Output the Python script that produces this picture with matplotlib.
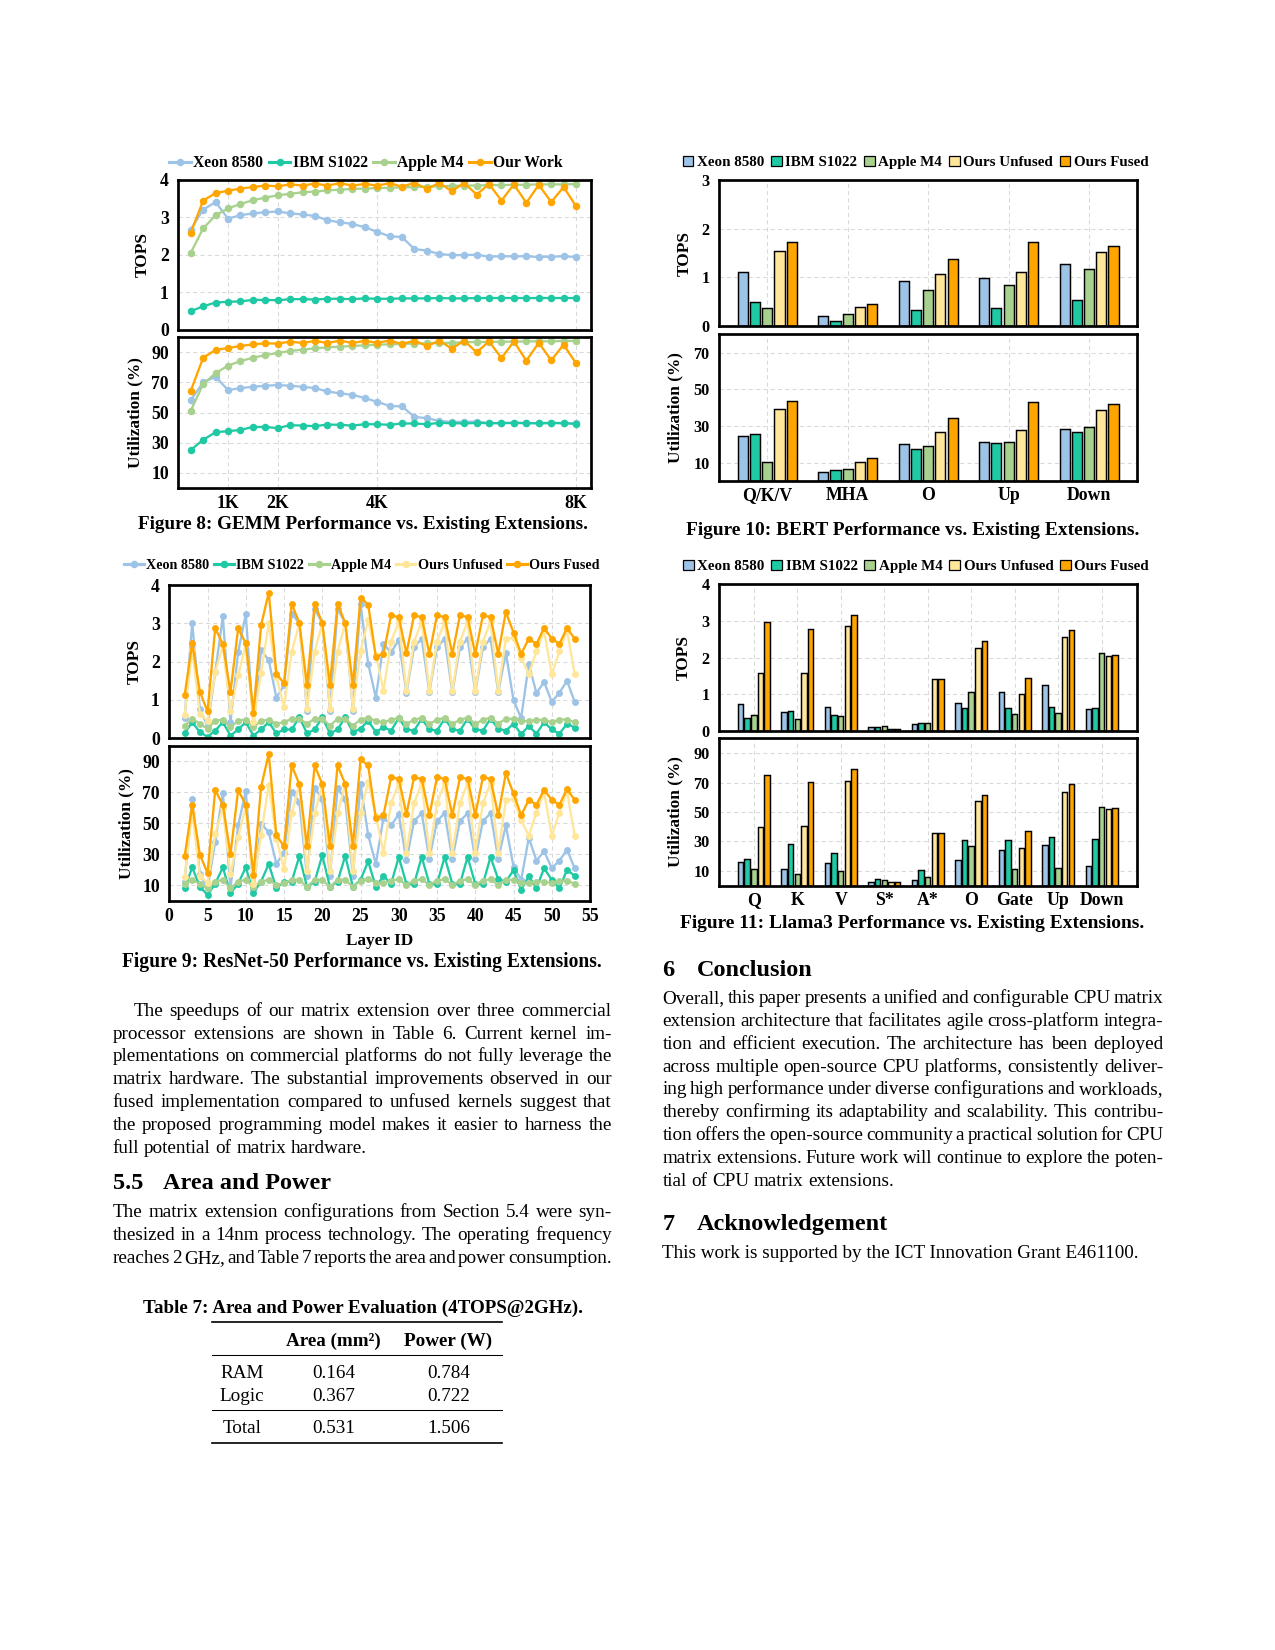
import numpy as np
import matplotlib
matplotlib.use('Agg')
import matplotlib.pyplot as plt
from matplotlib.lines import Line2D
from matplotlib.patches import Patch

# ---------------- Figure 8: GEMM ----------------
gemm_size = [256, 512, 768, 1024, 1280, 1536, 1792, 2048, 2304, 2560, 2816, 3072,
             3328, 3584, 3840, 4096, 4352, 4608, 4864, 5120, 5376, 5632, 5888, 6144,
             6400, 6656, 6912, 7168, 7424, 7680, 7936, 8192]
gemm_ticks = [1024, 2048, 4096, 8192]
gemm_ticklabels = ['1K', '2K', '4K', '8K']
gemm_labels = ['Xeon 8580', 'IBM S1022', 'Apple M4', 'Our Work']

gemm_xeon_tops = [2.67, 3.20, 3.40, 2.96, 3.05, 3.10, 3.13, 3.15, 3.10, 3.07, 3.03, 2.92,
                  2.86, 2.82, 2.73, 2.61, 2.49, 2.47, 2.15, 2.11, 2.02, 1.99, 1.99, 2.00,
                  1.95, 1.96, 1.96, 1.96, 1.94, 1.95, 1.96, 1.94]
gemm_ibm_tops = [0.50, 0.63, 0.73, 0.75, 0.76, 0.80, 0.80, 0.79, 0.82, 0.82, 0.81, 0.83,
                 0.83, 0.82, 0.84, 0.83, 0.83, 0.84, 0.84, 0.84, 0.85, 0.84, 0.84, 0.85,
                 0.85, 0.85, 0.85, 0.85, 0.85, 0.85, 0.85, 0.85]
gemm_apple_tops = [2.05, 2.70, 3.05, 3.23, 3.35, 3.45, 3.52, 3.58, 3.62, 3.66, 3.68, 3.71,
                   3.73, 3.75, 3.76, 3.77, 3.78, 3.79, 3.80, 3.81, 3.82, 3.83, 3.84, 3.84,
                   3.85, 3.85, 3.86, 3.86, 3.87, 3.87, 3.87, 3.88]
gemm_ours_tops = [2.58, 3.44, 3.64, 3.70, 3.76, 3.80, 3.84, 3.82, 3.87, 3.84, 3.89, 3.84,
                  3.90, 3.84, 3.88, 3.84, 3.90, 3.81, 3.91, 3.75, 3.91, 3.69, 3.91, 3.60,
                  3.88, 3.44, 3.87, 3.38, 3.86, 3.40, 3.80, 3.29]

gemm_xeon_util = [58.2, 70.0, 73.8, 64.9, 66.2, 67.1, 67.8, 68.2, 67.8, 67.1, 66.2, 64.0,
                  62.7, 61.8, 59.6, 57.1, 54.4, 54.0, 47.1, 46.2, 44.4, 43.8, 43.8, 44.0,
                  42.9, 43.1, 43.1, 43.1, 42.7, 42.9, 43.0, 42.7]
gemm_ibm_util = [25.1, 31.8, 36.9, 37.6, 38.4, 40.4, 40.4, 39.6, 41.6, 41.3, 40.9, 42.0,
                 41.8, 41.3, 42.2, 42.2, 41.8, 42.7, 42.7, 42.2, 43.1, 42.9, 42.7, 43.1,
                 42.9, 42.9, 43.1, 42.9, 42.9, 43.1, 42.9, 42.4]
gemm_apple_util = [51.1, 68.9, 76.2, 81.1, 84.2, 86.4, 88.2, 89.6, 90.9, 91.8, 92.7, 93.3,
                   93.8, 94.2, 94.7, 95.1, 95.3, 95.6, 95.8, 96.0, 96.2, 96.4, 96.7, 96.9,
                   96.9, 97.1, 97.1, 97.3, 97.3, 97.3, 97.6, 97.6]
gemm_ours_util = [64.4, 86.4, 91.6, 92.9, 94.2, 95.3, 96.0, 95.8, 97.1, 96.2, 97.6, 96.2,
                  97.8, 96.2, 97.6, 96.4, 97.8, 95.6, 97.8, 94.2, 97.8, 92.4, 97.8, 90.0,
                  97.3, 86.2, 97.3, 84.4, 96.4, 84.7, 95.1, 82.7]

# ---------------- Figure 9: ResNet-50 ----------------
layer_id = [2, 3, 4, 5, 6, 7, 8, 9, 10, 11, 12, 13, 14,
            15, 16, 17, 18, 19, 20, 21, 22, 23, 24, 25, 26, 27,
            28, 29, 30, 31, 32, 33, 34, 35, 36, 37, 38, 39, 40,
            41, 42, 43, 44, 45, 46, 47, 48, 49, 50, 51, 52, 53]
r50_labels = ['Xeon 8580', 'IBM S1022', 'Apple M4', 'Ours Unfused', 'Ours Fused']

r50_xeon_tops = [0.52, 3.02, 0.77, 0.31, 1.72, 3.18, 0.42, 2.25, 3.24, 0.35, 2.30, 2.04, 1.06,
                 1.38, 3.25, 3.01, 0.72, 3.38, 3.01, 0.72, 3.38, 3.01, 0.72, 3.50, 1.95, 1.06,
                 2.46, 2.24, 2.57, 1.18, 2.37, 2.60, 1.20, 2.37, 2.60, 1.20, 2.37, 2.60, 1.20,
                 2.37, 2.60, 1.20, 2.23, 0.99, 0.53, 1.94, 1.18, 1.47, 0.95, 1.19, 1.50, 0.95]
r50_ibm_tops = [0.13, 0.42, 0.16, 0.04, 0.20, 0.42, 0.07, 0.23, 0.42, 0.07, 0.23, 0.42, 0.13,
                0.23, 0.23, 0.55, 0.13, 0.23, 0.55, 0.13, 0.23, 0.55, 0.16, 0.25, 0.46, 0.16,
                0.29, 0.20, 0.53, 0.23, 0.20, 0.51, 0.23, 0.20, 0.51, 0.23, 0.20, 0.51, 0.23,
                0.20, 0.51, 0.25, 0.20, 0.38, 0.11, 0.32, 0.12, 0.42, 0.23, 0.12, 0.38, 0.28]
r50_apple_tops = [0.33, 0.51, 0.38, 0.25, 0.46, 0.49, 0.29, 0.46, 0.49, 0.29, 0.45, 0.49, 0.38,
                  0.42, 0.51, 0.51, 0.38, 0.51, 0.51, 0.33, 0.51, 0.51, 0.33, 0.49, 0.54, 0.45,
                  0.42, 0.48, 0.54, 0.38, 0.48, 0.54, 0.38, 0.48, 0.54, 0.38, 0.48, 0.54, 0.38,
                  0.48, 0.54, 0.38, 0.51, 0.51, 0.45, 0.45, 0.48, 0.48, 0.42, 0.49, 0.49, 0.42]
r50_unf_tops = [0.62, 2.30, 0.64, 0.46, 1.74, 2.40, 0.70, 1.65, 2.45, 0.42, 1.70, 3.00, 1.60,
                0.82, 2.26, 3.00, 0.77, 2.26, 3.00, 0.77, 2.26, 3.00, 0.77, 2.28, 3.08, 2.18,
                1.24, 2.52, 3.05, 1.24, 2.52, 3.05, 1.24, 2.52, 3.05, 1.24, 2.52, 3.05, 1.24,
                2.52, 3.05, 1.24, 2.60, 2.62, 2.10, 1.68, 2.27, 2.80, 1.67, 2.27, 2.82, 1.67]
r50_fused_tops = [1.12, 2.48, 1.21, 0.70, 2.87, 2.46, 1.21, 2.87, 2.48, 0.67, 2.95, 3.80, 1.69,
                  1.43, 3.51, 3.01, 1.39, 3.51, 3.01, 1.39, 3.51, 3.01, 1.39, 3.67, 3.49, 2.13,
                  2.20, 3.21, 3.16, 2.22, 3.21, 3.16, 2.20, 3.21, 3.16, 2.20, 3.21, 3.16, 2.20,
                  3.21, 3.16, 2.20, 3.30, 2.76, 2.20, 2.60, 2.46, 2.88, 2.60, 2.46, 2.88, 2.59]

r50_xeon_util = [12.4, 65.7, 17.0, 8.0, 38.0, 69.6, 8.0, 48.7, 70.7, 7.0, 49.8, 44.3, 23.9,
                 31.0, 70.4, 64.0, 15.7, 72.6, 66.0, 15.7, 72.6, 65.7, 15.7, 75.4, 42.4, 23.7,
                 53.7, 48.7, 55.9, 26.0, 51.5, 56.5, 27.0, 51.5, 56.5, 27.0, 51.5, 56.5, 27.0,
                 51.5, 56.5, 27.0, 48.7, 22.0, 13.5, 40.7, 25.9, 32.0, 21.0, 25.9, 33.0, 21.0]
r50_ibm_util = [8.0, 21.5, 9.0, 3.7, 11.0, 21.5, 4.8, 11.0, 21.5, 5.2, 12.4, 23.7, 8.0,
                12.4, 12.4, 28.7, 9.0, 12.4, 29.3, 9.0, 12.4, 29.0, 9.0, 13.5, 25.4, 9.0,
                16.0, 10.9, 28.3, 10.9, 10.9, 28.3, 10.9, 10.9, 28.3, 10.9, 10.9, 28.3, 10.9,
                10.9, 28.3, 13.9, 12.4, 19.6, 7.0, 16.0, 8.0, 21.0, 13.5, 8.0, 20.0, 16.0]
r50_apple_util = [10.9, 13.5, 10.9, 8.0, 12.4, 13.5, 8.0, 12.4, 13.5, 9.0, 12.4, 13.5, 10.2,
                  11.3, 13.5, 13.5, 9.0, 13.5, 13.5, 9.0, 13.5, 13.5, 9.0, 13.0, 13.9, 11.7,
                  11.3, 13.0, 13.9, 10.2, 13.0, 13.9, 10.2, 13.0, 13.9, 10.2, 13.0, 13.9, 10.2,
                  13.0, 13.9, 10.2, 13.5, 13.5, 11.7, 11.7, 12.4, 12.4, 11.3, 13.0, 13.0, 10.9]
r50_unf_util = [15.5, 57.0, 16.0, 11.5, 43.0, 60.0, 17.0, 41.0, 61.0, 10.5, 42.5, 75.0, 40.0,
                20.5, 56.5, 75.0, 19.0, 56.5, 75.0, 19.0, 56.5, 75.0, 19.0, 57.0, 77.0, 55.0,
                31.0, 63.0, 76.0, 31.0, 63.0, 76.0, 31.0, 63.0, 76.0, 31.0, 63.0, 76.0, 31.0,
                63.0, 76.0, 31.0, 65.0, 65.5, 52.0, 42.0, 57.0, 70.0, 42.0, 57.0, 70.5, 42.0]
r50_fused_util = [28.7, 61.7, 29.8, 17.8, 71.5, 62.0, 30.0, 71.5, 62.0, 16.7, 73.5, 95.0, 42.2,
                  35.2, 87.4, 75.4, 35.2, 87.4, 75.4, 35.2, 87.4, 75.4, 35.2, 91.3, 87.4, 53.3,
                  55.2, 79.8, 78.7, 55.9, 79.8, 78.7, 55.2, 79.8, 78.7, 55.2, 79.8, 78.7, 55.2,
                  79.8, 78.7, 55.2, 82.4, 69.3, 55.2, 65.2, 62.0, 71.7, 65.2, 62.0, 72.2, 65.0]

# ---------------- Figure 10: BERT ----------------
bert_ops = ['Q/K/V', 'MHA', 'O', 'Up', 'Down']
bert_xeon_tops = [1.10, 0.20, 0.93, 0.98, 1.28]
bert_ibm_tops = [0.50, 0.10, 0.32, 0.38, 0.53]
bert_apple_tops = [0.38, 0.24, 0.73, 0.84, 1.17]
bert_unf_tops = [1.55, 0.40, 1.06, 1.10, 1.53]
bert_fused_tops = [1.72, 0.46, 1.37, 1.72, 1.65]
bert_xeon_util = [24.4, 4.7, 20.4, 21.5, 28.2]
bert_ibm_util = [25.8, 5.8, 17.3, 20.5, 26.5]
bert_apple_util = [10.2, 6.4, 18.9, 21.5, 29.3]
bert_unf_util = [39.1, 10.2, 26.5, 27.6, 38.5]
bert_fused_util = [43.5, 12.4, 34.2, 42.9, 41.8]

# ---------------- Figure 11: Llama3 ----------------
llama_ops = ['Q', 'K', 'V', 'S*', 'A*', 'O', 'Gate', 'Up', 'Down']
llama_xeon_tops = [0.72, 0.50, 0.66, 0.09, 0.17, 0.75, 1.07, 1.24, 0.58]
llama_ibm_tops = [0.34, 0.55, 0.42, 0.09, 0.20, 0.61, 0.61, 0.64, 0.61]
llama_apple_tops = [0.42, 0.31, 0.39, 0.12, 0.20, 1.05, 0.45, 0.47, 2.11]
llama_unf_tops = [1.59, 1.59, 2.85, 0.06, 1.40, 2.27, 0.99, 2.55, 2.05]
llama_fused_tops = [2.98, 2.79, 3.15, 0.06, 1.40, 2.44, 1.45, 2.74, 2.08]
llama_xeon_util = [16.1, 11.4, 15.4, 2.6, 3.9, 17.5, 24.2, 27.6, 13.4]
llama_ibm_util = [18.1, 28.3, 22.2, 4.6, 10.7, 31.0, 31.0, 33.0, 31.6]
llama_apple_util = [11.4, 8.0, 10.0, 3.9, 6.0, 26.9, 11.4, 12.0, 53.3]
llama_unf_util = [39.8, 40.2, 70.8, 2.6, 35.7, 57.3, 25.5, 63.4, 51.9]
llama_fused_util = [74.9, 70.2, 79.0, 2.6, 35.7, 61.4, 37.0, 68.8, 52.6]

# ---------------- Table 7 ----------------
table_cols = ['Area (mm²)', 'Power (W)']
table_rows = ['RAM', 'Logic', 'Total']
table_area = ['0.164', '0.367', '0.531']
table_power = ['0.784', '0.722', '1.506']

# ---------------- page text ----------------
para_results = [
    "The speedups of our matrix extension over three commercial",
    "processor extensions are shown in Table 6. Current kernel im-",
    "plementations on commercial platforms do not fully leverage the",
    "matrix hardware. The substantial improvements observed in our",
    "fused implementation compared to unfused kernels suggest that",
    "the proposed programming model makes it easier to harness the",
    "full potential of matrix hardware."]
para_area = [
    "The matrix extension configurations from Section 5.4 were syn-",
    "thesized in a 14nm process technology. The operating frequency",
    "reaches 2 GHz, and Table 7 reports the area and power consumption."]
para_conclusion = [
    "Overall, this paper presents a unified and configurable CPU matrix",
    "extension architecture that facilitates agile cross-platform integra-",
    "tion and efficient execution. The architecture has been deployed",
    "across multiple open-source CPU platforms, consistently deliver-",
    "ing high performance under diverse configurations and workloads,",
    "thereby confirming its adaptability and scalability. This contribu-",
    "tion offers the open-source community a practical solution for CPU",
    "matrix extensions. Future work will continue to explore the poten-",
    "tial of CPU matrix extensions."]
ack_line = "This work is supported by the ICT Innovation Grant E461100."

W, H = 1275, 1650
DPI = 150
LINE = 22.8

C_XEON = '#9dc3e6'
C_IBM = '#1fc9a3'
C_APPLE = '#a9d18e'
C_UNF = '#ffe699'
C_FUSED = '#ffa500'


def fx(x):
    return x / W


def fy(y):
    return 1 - y / H


def box(l, t, r, b):
    return [l / W, 1 - b / H, (r - l) / W, (b - t) / H]


def text_width(fig, t):
    return t.get_window_extent(renderer=fig.canvas.get_renderer()).width


def base(cy, size):
    # centre of the capitals (px) -> baseline (px)
    return cy + 0.34 * size * DPI / 72


def put(fig, x, cy, s, size, weight='normal', ha='left'):
    return fig.text(fx(x), fy(base(cy, size)), s, fontsize=size,
                    fontweight=weight, ha=ha, va='baseline')


def fit_text(fig, x, cy, s, target, weight='bold', ha='center'):
    t = fig.text(fx(x), fy(cy), s, fontsize=9, fontweight=weight, ha=ha, va='baseline')
    size = 9 * target / text_width(fig, t)
    t.set_fontsize(size)
    t.set_y(fy(base(cy, size)))
    return size


def natural_size(fig, lines, target):
    # font size at which a typical full line fills the column with plain spaces
    ratios = []
    for line in lines:
        t = fig.text(0, 0, line, fontsize=9, fontweight='normal')
        ratios.append(9 * target / text_width(fig, t))
        t.remove()
    return float(np.median(ratios))


def justify(fig, x0, x1, cy, line, size, stretch=True):
    words = line.split()
    arts = [put(fig, x0, cy, w, size) for w in words]
    widths = [text_width(fig, a) for a in arts]
    gap = size * DPI / 72 * 0.25
    if stretch and len(words) > 1:
        gap = (x1 - x0 - sum(widths)) / (len(words) - 1)
    x = x0
    for a, w in zip(arts, widths):
        a.set_x(fx(x))
        x += w + gap


def paragraph(fig, x0, x1, cy0, lines, size, indent=0, last_full=False):
    for i, line in enumerate(lines):
        last = i == len(lines) - 1
        justify(fig, x0 + (indent if i == 0 else 0), x1, cy0 + i * LINE, line, size,
                stretch=(not last) or last_full)


def style(ax, ylim, yticks, size):
    ax.set_ylim(ylim)
    ax.set_yticks(yticks)
    ax.tick_params(length=0, labelsize=size, pad=4.5)
    for s in ax.spines.values():
        s.set_linewidth(1.3)
    ax.grid(True, color='#d9d9d9', lw=0.5, ls=(0, (4, 3)))
    ax.set_axisbelow(True)


def fit_legend(fig, handles, labels, cx, cy, target, **kw):
    size = 8.0
    leg = fig.legend(handles, labels, loc='center', bbox_to_anchor=(fx(cx), fy(cy)),
                     frameon=False, borderpad=0, ncol=len(labels),
                     prop={'weight': 'bold', 'size': size}, **kw)
    w = leg.get_window_extent(fig.canvas.get_renderer()).width
    leg.remove()
    size *= target / w
    return fig.legend(handles, labels, loc='center', bbox_to_anchor=(fx(cx), fy(cy)),
                      frameon=False, borderpad=0, ncol=len(labels),
                      prop={'weight': 'bold', 'size': size}, **kw)


def ylabel(fig, x, t, b, s):
    fig.text(fx(x), fy((t + b) / 2), s, rotation=90, ha='center', va='center',
             fontsize=8.3, fontweight='bold')


def bars(ax, series, colors, width=0.125, step=0.152):
    x = np.arange(len(series[0]))
    for i, (vals, c) in enumerate(zip(series, colors)):
        ax.bar(x + (i - 2) * step, vals, width, color=c, edgecolor='black', lw=0.7, zorder=2)


def main():
    plt.rcParams['font.family'] = ['Liberation Serif', 'DejaVu Serif']
    plt.rcParams['font.weight'] = 'bold'

    fig = plt.figure(figsize=(W / DPI, H / DPI), dpi=DPI)

    line_colors = [C_XEON, C_IBM, C_APPLE, C_FUSED]
    line5_colors = [C_XEON, C_IBM, C_APPLE, C_UNF, C_FUSED]

    # ---- Figure 8 ----
    ax1 = fig.add_axes(box(178.3, 179.5, 591, 330))
    ax2 = fig.add_axes(box(178.3, 337.3, 591, 487.7))
    gemm_tops = [gemm_xeon_tops, gemm_ibm_tops, gemm_apple_tops, gemm_ours_tops]
    gemm_util = [gemm_xeon_util, gemm_ibm_util, gemm_apple_util, gemm_ours_util]
    for ax, series in ((ax1, gemm_tops), (ax2, gemm_util)):
        for vals, c in zip(series, line_colors):
            ax.plot(gemm_size, vals, color=c, lw=1.1, marker='o', ms=2.6)
        ax.set_xlim(0, 8500)
        ax.set_xticks(gemm_ticks)
    style(ax1, (0, 4), [0, 1, 2, 3, 4], 8.5)
    ax1.tick_params(labelbottom=False)
    style(ax2, (0, 100), [10, 30, 50, 70, 90], 8.5)
    ax2.set_xticklabels(gemm_ticklabels)
    ax2.tick_params(axis='x', pad=3.5)
    ylabel(fig, 143, 179.5, 330, 'TOPS')
    ylabel(fig, 135.7, 337.3, 487.7, 'Utilization (%)')
    h = [Line2D([0], [0], color=c, lw=1.5, marker='o', ms=2.6) for c in line_colors]
    fit_legend(fig, h, gemm_labels, 366, 163.3, 392,
               handlelength=1.4, handletextpad=0.15, columnspacing=0.35)
    fit_text(fig, 362.5, 522.7, 'Figure 8: GEMM Performance vs. Existing Extensions.', 451.6)

    # ---- Figure 9 ----
    ax3 = fig.add_axes(box(169.3, 585, 590, 738.3))
    ax4 = fig.add_axes(box(169.3, 746, 590, 900.7))
    r50_tops = [r50_xeon_tops, r50_ibm_tops, r50_apple_tops, r50_unf_tops, r50_fused_tops]
    r50_util = [r50_xeon_util, r50_ibm_util, r50_apple_util, r50_unf_util, r50_fused_util]
    for ax, series in ((ax3, r50_tops), (ax4, r50_util)):
        for vals, c in zip(series, line5_colors):
            ax.plot(layer_id, vals, color=c, lw=1.1, marker='o', ms=2.3)
        ax.set_xlim(0, 55)
        ax.set_xticks(range(0, 56, 5))
    style(ax3, (0, 4), [0, 1, 2, 3, 4], 8.5)
    ax3.tick_params(labelbottom=False)
    style(ax4, (0, 100), [10, 30, 50, 70, 90], 8.5)
    ax4.tick_params(axis='x', pad=3.5)
    ylabel(fig, 135, 585, 738.3, 'TOPS')
    ylabel(fig, 126, 746, 900.7, 'Utilization (%)')
    fig.text(fx(379.5), fy(base(939.3, 8.3)), 'Layer ID', ha='center', va='baseline',
             fontsize=8.3, fontweight='bold')
    h = [Line2D([0], [0], color=c, lw=1.5, marker='o', ms=2.6) for c in line5_colors]
    fit_legend(fig, h, r50_labels, 362, 565.7, 471,
               handlelength=1.4, handletextpad=0.15, columnspacing=0.35)
    fit_text(fig, 362.2, 960, 'Figure 9: ResNet-50 Performance vs. Existing Extensions.', 481)

    # ---- Figure 10 ----
    ax5 = fig.add_axes(box(719, 180, 1137.3, 326))
    ax6 = fig.add_axes(box(719, 334.3, 1137.3, 481))
    bars(ax5, [bert_xeon_tops, bert_ibm_tops, bert_apple_tops, bert_unf_tops, bert_fused_tops],
         line5_colors)
    bars(ax6, [bert_xeon_util, bert_ibm_util, bert_apple_util, bert_unf_util, bert_fused_util],
         line5_colors)
    for ax in (ax5, ax6):
        ax.set_xlim(-0.6, 4.6)
        ax.set_xticks(range(len(bert_ops)))
    style(ax5, (0, 3), [0, 1, 2, 3], 7.8)
    ax5.tick_params(labelbottom=False)
    style(ax6, (0, 80), [10, 30, 50, 70], 7.8)
    ax6.set_xticklabels(bert_ops, fontsize=8.5)
    ax6.tick_params(axis='x', pad=3)
    ylabel(fig, 685, 180, 326, 'TOPS')
    ylabel(fig, 675, 334.3, 481, 'Utilization (%)')
    h = [Patch(facecolor=c, edgecolor='black', lw=0.6) for c in line5_colors]
    fit_legend(fig, h, r50_labels, 915.7, 162.7, 465,
               handlelength=0.7, handleheight=0.7, handletextpad=0.25, columnspacing=0.45)
    fit_text(fig, 913, 528.3, 'Figure 10: BERT Performance vs. Existing Extensions.', 454)

    # ---- Figure 11 ----
    ax7 = fig.add_axes(box(719, 584.3, 1137.3, 730.7))
    ax8 = fig.add_axes(box(719, 738.3, 1137.3, 885.7))
    bars(ax7, [llama_xeon_tops, llama_ibm_tops, llama_apple_tops, llama_unf_tops, llama_fused_tops],
         line5_colors)
    bars(ax8, [llama_xeon_util, llama_ibm_util, llama_apple_util, llama_unf_util, llama_fused_util],
         line5_colors)
    for ax in (ax7, ax8):
        ax.set_xlim(-0.8, 8.82)
        ax.set_xticks(range(len(llama_ops)))
    style(ax7, (0, 4), [0, 1, 2, 3, 4], 7.8)
    ax7.tick_params(labelbottom=False)
    style(ax8, (0, 100), [10, 30, 50, 70, 90], 7.8)
    ax8.set_xticklabels(llama_ops, fontsize=8.5)
    ax8.tick_params(axis='x', pad=3)
    ylabel(fig, 684, 584.3, 730.7, 'TOPS')
    ylabel(fig, 675, 738.3, 885.7, 'Utilization (%)')
    fit_legend(fig, h, r50_labels, 916, 566.7, 464,
               handlelength=0.7, handleheight=0.7, handletextpad=0.25, columnspacing=0.45)
    fit_text(fig, 912, 921.7, 'Figure 11: Llama3 Performance vs. Existing Extensions.', 465.7)

    # ---- body text ----
    full_lines = para_results[1:-1] + para_area + para_conclusion[:-1]
    body = natural_size(fig, full_lines, 500)
    paragraph(fig, 112.7, 611.7, 1009.3, para_results, body, indent=20.6)
    paragraph(fig, 112.7, 611.7, 1210.7, para_area, body, last_full=True)
    paragraph(fig, 662.3, 1163.3, 996.7, para_conclusion, body)
    put(fig, 662.3, 1251, ack_line, body)

    head = fit_text(fig, 696.7, 1221.7, 'Acknowledgement', 191.6, ha='left')
    put(fig, 662.3, 1221.7, '7', head, weight='bold')
    put(fig, 662.3, 967.7, '6', head, weight='bold')
    put(fig, 696.7, 967.7, 'Conclusion', head, weight='bold')
    put(fig, 112.7, 1181, '5.5', head, weight='bold')
    put(fig, 163.3, 1181, 'Area and Power', head, weight='bold')

    # ---- Table 7 ----
    fit_text(fig, 363.3, 1306.3, 'Table 7: Area and Power Evaluation (4TOPS@2GHz).', 440)
    for y, lw in ((1322.3, 0.8), (1355, 0.5), (1410, 0.5), (1442.7, 0.8)):
        fig.add_artist(Line2D([fx(211.7), fx(502.3)], [fy(y), fy(y)], color='black', lw=lw,
                              transform=fig.transFigure))
    put(fig, 333.3, 1339.3, table_cols[0], body, weight='bold', ha='center')
    put(fig, 448.3, 1339.3, table_cols[1], body, weight='bold', ha='center')
    for name, a, p, y in zip(table_rows, table_area, table_power, (1371, 1394.3, 1426)):
        put(fig, 242, y, name, body, ha='center')
        put(fig, 333.3, y, a, body, ha='center')
        put(fig, 448.3, y, p, body, ha='center')

    fig.savefig('out.png', dpi=DPI)


if __name__ == '__main__':
    main()
